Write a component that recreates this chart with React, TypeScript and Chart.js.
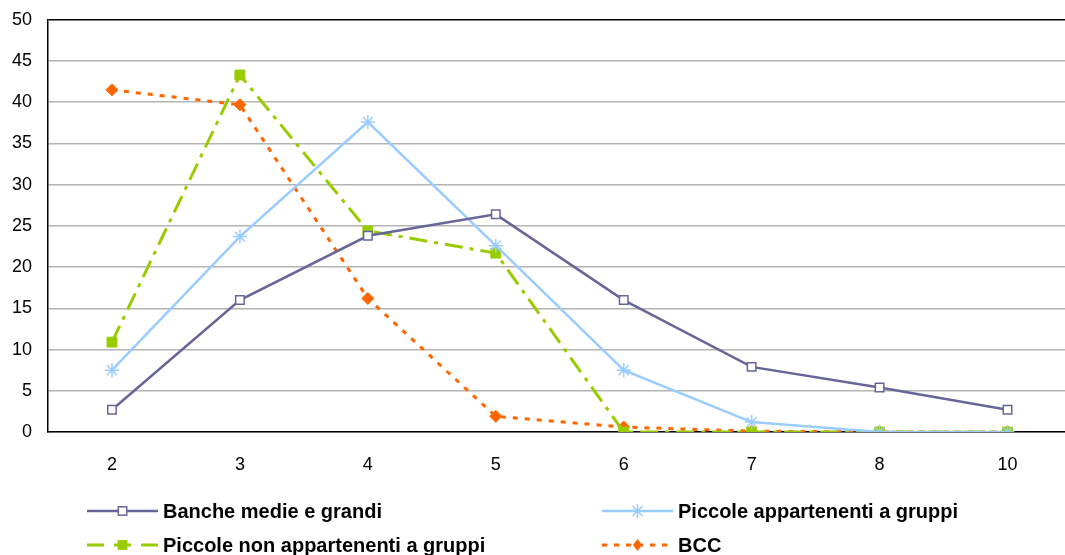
import React, { useEffect, useRef } from "react";
import { Chart, registerables } from "chart.js";

Chart.register(...registerables);

const categories = ["2", "3", "4", "5", "6", "7", "8", "10"];
const bancheMedieGrandi = [2.7, 16.0, 23.8, 26.4, 16.0, 7.9, 5.4, 2.7];
const piccoleAppGruppi = [7.5, 23.7, 37.6, 22.6, 7.5, 1.2, 0, 0];
const piccoleNonAppGruppi = [10.9, 43.3, 24.4, 21.7, 0, 0, 0, 0];
const bcc = [41.5, 39.7, 16.2, 1.9, 0.6, 0.1, 0, 0];
const yTicks = [0, 5, 10, 15, 20, 25, 30, 35, 40, 45, 50];

const FONT = "'Liberation Sans', Arial, sans-serif";
const SHIFT = 7;

const legendPlugin = {
  id: "customLegend",
  afterDraw(chart: any) {
    const ctx = chart.ctx;
    const items = [
      { i: 0, x: 87, y: 511 + SHIFT },
      { i: 1, x: 602, y: 511 + SHIFT },
      { i: 2, x: 87, y: 545 + SHIFT },
      { i: 3, x: 602, y: 545 + SHIFT },
    ];
    ctx.save();
    items.forEach(({ i, x, y }) => {
      const ds: any = chart.data.datasets[i];
      const w = 71;
      ctx.strokeStyle = ds.borderColor;
      ctx.lineWidth = ds.borderWidth;
      ctx.setLineDash(ds.legendDash || ds.borderDash || []);
      ctx.beginPath();
      ctx.moveTo(x, y);
      ctx.lineTo(x + w, y);
      ctx.stroke();
      ctx.setLineDash([]);
      const cx = x + w / 2;
      const r = ds.pointRadius;
      ctx.lineWidth = ds.pointBorderWidth;
      ctx.strokeStyle = ds.pointBorderColor;
      ctx.fillStyle = ds.pointBackgroundColor;
      if (ds.pointStyle === "rect") {
        const h = r * 0.7;
        ctx.fillRect(cx - h, y - h, h * 2, h * 2);
        if (ds.pointBackgroundColor === "#ffffff") ctx.strokeRect(cx - h, y - h, h * 2, h * 2);
      } else if (ds.pointStyle === "star") {
        ctx.beginPath();
        for (let k = 0; k < 4; k++) {
          const a = (k * Math.PI) / 4;
          ctx.moveTo(cx - r * Math.sin(a), y - r * Math.cos(a));
          ctx.lineTo(cx + r * Math.sin(a), y + r * Math.cos(a));
        }
        ctx.stroke();
      } else if (ds.pointStyle === "rectRot") {
        ctx.beginPath();
        ctx.moveTo(cx, y - r);
        ctx.lineTo(cx + r * 0.75, y);
        ctx.lineTo(cx, y + r);
        ctx.lineTo(cx - r * 0.75, y);
        ctx.closePath();
        ctx.fill();
      }
      ctx.fillStyle = "#000000";
      ctx.font = `bold 20px ${FONT}`;
      ctx.textBaseline = "middle";
      ctx.textAlign = "left";
      ctx.fillText(ds.label, x + w + 5, y + 1);
    });
    ctx.restore();
  },
};

export default function App() {
  const ref = useRef<HTMLCanvasElement>(null);
  useEffect(() => {
    if (!ref.current) return;
    const chart = new Chart(ref.current, {
      type: "line",
      data: {
        labels: categories,
        datasets: [
          {
            label: "Banche medie e grandi",
            data: bancheMedieGrandi,
            borderColor: "#666699",
            borderWidth: 2.5,
            pointStyle: "rect",
            pointRadius: 6,
            pointBackgroundColor: "#ffffff",
            pointBorderColor: "#666699",
            pointBorderWidth: 1.5,
          },
          {
            label: "Piccole appartenenti a gruppi",
            data: piccoleAppGruppi,
            borderColor: "#99ccff",
            borderWidth: 2.5,
            pointStyle: "star",
            pointRadius: 7,
            pointBackgroundColor: "#99ccff",
            pointBorderColor: "#99ccff",
            pointBorderWidth: 1.5,
          },
          {
            label: "Piccole non appartenenti a gruppi",
            data: piccoleNonAppGruppi,
            borderColor: "#99cc00",
            borderWidth: 3,
            borderDash: [18, 7, 4, 7],
            legendDash: [17, 10],
            pointStyle: "rect",
            pointRadius: 7,
            pointBackgroundColor: "#99cc00",
            pointBorderColor: "#99cc00",
            pointBorderWidth: 1,
          },
          {
            label: "BCC",
            data: bcc,
            borderColor: "#ff6600",
            borderWidth: 3,
            borderDash: [5, 7],
            pointStyle: "rectRot",
            pointRadius: 6,
            pointBackgroundColor: "#ff6600",
            pointBorderColor: "#ff6600",
            pointBorderWidth: 1,
          },
        ],
      },
      options: {
        animation: false,
        responsive: false,
        layout: { padding: { left: 0, right: 3, top: 14, bottom: 80 } },
        plugins: { legend: { display: false }, tooltip: { enabled: false } },
        scales: {
          x: {
            offset: true,
            grid: { display: false, drawTicks: false },
            border: { color: "#000000", width: 1.5 },
            ticks: { color: "#000000", font: { family: FONT, size: 18 }, padding: 22 },
            afterFit(scale: any) {
              scale.height = 43;
            },
          },
          y: {
            min: 0,
            max: 50,
            afterBuildTicks(scale: any) {
              scale.ticks = yTicks.map((v) => ({ value: v }));
            },
            grid: {
              drawTicks: false,
              color: (c: any) => (c.tick && c.tick.value === 50 ? "#000000" : "#b4b4b4"),
              lineWidth: 1.5,
            },
            border: { color: "#000000", width: 1.5 },
            ticks: { color: "#000000", font: { family: FONT, size: 18 }, padding: 16 },
            afterFit(scale: any) {
              scale.width = 48;
            },
          },
        },
      },
      plugins: [legendPlugin],
    } as any);
    return () => chart.destroy();
  }, []);
  return (
    <div style={{ position: "absolute", left: 0, top: 0, width: 1065, height: 555, overflow: "hidden", background: "#fff" }}>
      <canvas ref={ref} width={1080} height={555 + SHIFT} style={{ display: "block", position: "absolute", left: 0, top: -SHIFT }} />
    </div>
  );
}
